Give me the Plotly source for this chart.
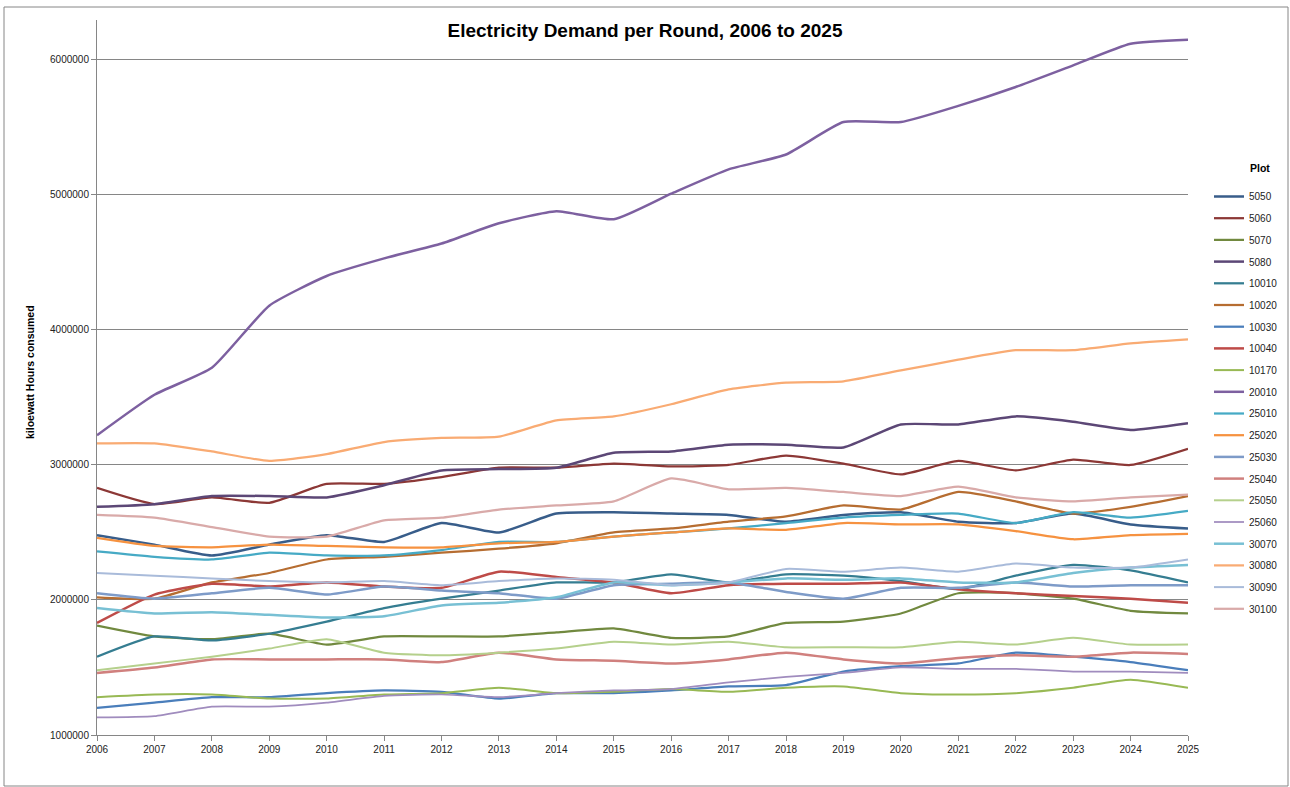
import plotly.graph_objects as go

# Simulation rounds (x axis)
years = list(range(2006, 2026))

# Annual electricity demand per plot, kWh
plot_5050 = [2480000, 2410000, 2330000, 2410000, 2480000, 2430000, 2570000, 2500000, 2640000, 2650000,
             2640000, 2630000, 2580000, 2630000, 2650000, 2580000, 2570000, 2640000, 2560000, 2530000]
plot_5060 = [2830000, 2710000, 2760000, 2720000, 2860000, 2860000, 2910000, 2980000, 2980000, 3010000,
             2990000, 3000000, 3070000, 3010000, 2930000, 3030000, 2960000, 3040000, 3000000, 3120000]
plot_5070 = [1810000, 1730000, 1710000, 1750000, 1670000, 1730000, 1730000, 1730000, 1760000, 1790000,
             1720000, 1730000, 1830000, 1840000, 1900000, 2050000, 2050000, 2010000, 1920000, 1900000]
plot_5080 = [2690000, 2710000, 2770000, 2770000, 2760000, 2850000, 2960000, 2970000, 2980000, 3090000,
             3100000, 3150000, 3150000, 3130000, 3300000, 3300000, 3360000, 3320000, 3260000, 3310000]
plot_10010 = [1580000, 1730000, 1700000, 1750000, 1840000, 1940000, 2010000, 2070000, 2130000, 2130000,
              2190000, 2130000, 2190000, 2180000, 2140000, 2080000, 2180000, 2260000, 2220000, 2130000]
plot_10020 = [2020000, 2010000, 2130000, 2200000, 2300000, 2320000, 2350000, 2380000, 2420000, 2500000,
              2530000, 2580000, 2620000, 2700000, 2670000, 2800000, 2730000, 2640000, 2690000, 2770000]
plot_10030 = [1200000, 1240000, 1280000, 1280000, 1310000, 1330000, 1320000, 1270000, 1310000, 1310000,
              1330000, 1360000, 1370000, 1470000, 1510000, 1530000, 1610000, 1580000, 1540000, 1480000]
plot_10040 = [1830000, 2040000, 2120000, 2100000, 2130000, 2100000, 2090000, 2210000, 2170000, 2130000,
              2050000, 2110000, 2120000, 2120000, 2130000, 2080000, 2050000, 2030000, 2010000, 1980000]
plot_10170 = [1280000, 1300000, 1300000, 1270000, 1270000, 1300000, 1310000, 1350000, 1310000, 1320000,
              1340000, 1320000, 1350000, 1360000, 1310000, 1300000, 1310000, 1350000, 1410000, 1350000]
plot_20010 = [3220000, 3520000, 3720000, 4180000, 4400000, 4530000, 4640000, 4790000, 4880000, 4820000,
              5010000, 5190000, 5300000, 5540000, 5540000, 5660000, 5800000, 5960000, 6120000, 6150000]
plot_25010 = [2360000, 2320000, 2300000, 2350000, 2330000, 2330000, 2370000, 2430000, 2430000, 2470000,
              2500000, 2530000, 2570000, 2610000, 2630000, 2640000, 2570000, 2650000, 2610000, 2660000]
plot_25020 = [2460000, 2400000, 2390000, 2410000, 2400000, 2390000, 2390000, 2420000, 2430000, 2470000,
              2500000, 2530000, 2520000, 2570000, 2560000, 2560000, 2510000, 2450000, 2480000, 2490000]
plot_25030 = [2050000, 2010000, 2050000, 2090000, 2040000, 2100000, 2070000, 2050000, 2010000, 2110000,
              2120000, 2130000, 2060000, 2010000, 2090000, 2090000, 2130000, 2100000, 2110000, 2110000]
plot_25040 = [1460000, 1500000, 1560000, 1560000, 1560000, 1560000, 1540000, 1610000, 1560000, 1550000,
              1530000, 1560000, 1610000, 1560000, 1530000, 1570000, 1590000, 1580000, 1610000, 1600000]
plot_25050 = [1480000, 1530000, 1580000, 1640000, 1710000, 1610000, 1590000, 1610000, 1640000, 1690000,
              1670000, 1690000, 1650000, 1650000, 1650000, 1690000, 1670000, 1720000, 1670000, 1670000]
plot_25060 = [1130000, 1140000, 1210000, 1210000, 1240000, 1290000, 1300000, 1280000, 1310000, 1330000,
              1340000, 1390000, 1430000, 1460000, 1500000, 1490000, 1490000, 1470000, 1470000, 1460000]
plot_30070 = [1940000, 1900000, 1910000, 1890000, 1870000, 1880000, 1960000, 1980000, 2020000, 2130000,
              2110000, 2130000, 2160000, 2150000, 2160000, 2130000, 2130000, 2200000, 2240000, 2260000]
plot_30080 = [3160000, 3160000, 3100000, 3030000, 3080000, 3170000, 3200000, 3210000, 3330000, 3360000,
              3450000, 3560000, 3610000, 3620000, 3700000, 3780000, 3850000, 3850000, 3900000, 3930000]
plot_30090 = [2200000, 2180000, 2160000, 2140000, 2130000, 2140000, 2110000, 2140000, 2160000, 2150000,
              2110000, 2130000, 2230000, 2210000, 2240000, 2210000, 2270000, 2240000, 2240000, 2300000]
plot_30100 = [2630000, 2610000, 2540000, 2470000, 2470000, 2590000, 2610000, 2670000, 2700000, 2730000,
              2900000, 2820000, 2830000, 2800000, 2770000, 2840000, 2760000, 2730000, 2760000, 2780000]

plot_names = ["5050", "5060", "5070", "5080", "10010", "10020", "10030", "10040", "10170", "20010",
              "25010", "25020", "25030", "25040", "25050", "25060", "30070", "30080", "30090", "30100"]
plot_series = [plot_5050, plot_5060, plot_5070, plot_5080, plot_10010, plot_10020, plot_10030,
               plot_10040, plot_10170, plot_20010, plot_25010, plot_25020, plot_25030, plot_25040,
               plot_25050, plot_25060, plot_30070, plot_30080, plot_30090, plot_30100]
plot_colors = ["#385D8A", "#8C3836", "#71893F", "#5C4776", "#357D91", "#B66D31", "#4A7EBB",
               "#BE4B48", "#98B954", "#7D60A0", "#46AAC5", "#F69240", "#7E9BC8", "#D0807E",
               "#B5D08C", "#A08CBE", "#78C0D4", "#F9AB73", "#A9BBDA", "#D9AAA9"]
plot_widths = [2.5, 2.25, 2.25, 2.5, 2.25, 2.25, 2.25, 2.5, 2.0, 2.5,
               2.25, 2.25, 2.5, 2.5, 2.0, 1.75, 2.5, 2.25, 2.0, 2.25]

fig = go.Figure()
for name, values, color, width in zip(plot_names, plot_series, plot_colors, plot_widths):
    fig.add_trace(go.Scatter(
        x=years, y=values, name=name, mode="lines",
        line=dict(color=color, width=width, shape="spline", smoothing=0.5),
        legendgroup=name,
    ))

axis_grey = "#868686"
base_font = "Liberation Sans, Arial, sans-serif"
tick_font = dict(family=base_font, size=10, color="#222222")

# plot area spans 97..1188 px horizontally and 20..735 px vertically
fig.update_layout(
    width=1290, height=787,
    margin=dict(l=97, r=102, t=20, b=52, autoexpand=False),
    paper_bgcolor="white", plot_bgcolor="white",
    title=dict(text="<b>Electricity Demand per Round, 2006 to 2025</b>",
               x=0.5, xref="container", xanchor="center",
               y=1 - 30 / 787, yref="container", yanchor="middle",
               font=dict(family=base_font, size=19, color="#000000")),
    xaxis=dict(range=[2006, 2025], tickvals=years, ticktext=[str(y) for y in years],
               ticks="outside", ticklen=5, tickcolor=axis_grey, showline=True, linecolor=axis_grey,
               linewidth=1, showgrid=False, zeroline=False, tickfont=tick_font),
    yaxis=dict(range=[1000000, 6296000], tick0=1000000, dtick=1000000, tickformat="d",
               ticks="outside", ticklen=5, tickcolor=axis_grey, showline=True, linecolor=axis_grey,
               linewidth=1, showgrid=True, gridcolor=axis_grey, gridwidth=1, zeroline=False,
               tickfont=tick_font),
    legend=dict(x=(1209 - 97) / 1091, xanchor="left", y=(735 - 182) / 715, yanchor="top",
                font=tick_font, tracegroupgap=2.7, itemwidth=30, bgcolor="rgba(0,0,0,0)"),
    annotations=[
        dict(text="<b>kiloewatt Hours consumed</b>", textangle=-90,
             xref="paper", yref="paper", x=(30 - 97) / 1091, y=(735 - 372) / 715,
             xanchor="center", yanchor="middle", showarrow=False,
             font=dict(family=base_font, size=10.5, color="#000000")),
        dict(text="<b>Plot</b>", xref="paper", yref="paper",
             x=(1260 - 97) / 1091, y=(735 - 168) / 715,
             xanchor="center", yanchor="middle", showarrow=False,
             font=dict(family=base_font, size=10.5, color="#000000")),
    ],
    shapes=[dict(type="rect", xref="paper", yref="paper",
                 x0=(4 - 97) / 1091, x1=(1288 - 97) / 1091,
                 y0=(735 - 786) / 715, y1=(735 - 7) / 715,
                 line=dict(color=axis_grey, width=1), fillcolor="rgba(0,0,0,0)", layer="below")],
)

fig.write_html("out.html")
